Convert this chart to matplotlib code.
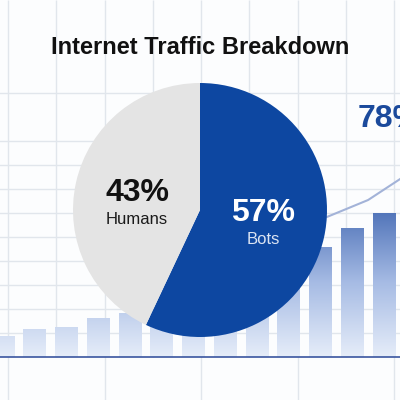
import matplotlib.pyplot as plt
import numpy as np
from matplotlib.colors import LinearSegmentedColormap

plt.rcParams['font.family'] = ['Liberation Sans', 'DejaVu Sans']

# pie data
shares = [57, 43]
share_labels = ["Bots", "Humans"]
pie_colors = ["#0d47a1", "#e4e4e4"]

# background bars (growth trend), values above baseline
bar_values = [21, 28, 30, 39, 44, 48, 53, 60, 70, 88, 110, 129, 144]
trend_x = [9.0, 10.2, 11.5, 12.7]
trend_y = [128, 140, 157, 182]
callout = "78%"

fig = plt.figure(figsize=(4, 4), dpi=100)
fig.patch.set_facecolor("#fcfdfe")

# bar chart axes fills the whole figure
ax = fig.add_axes([0, 0, 1, 1])
ax.set_facecolor("#fcfdfe")
ax.axis("off")

# grid
grid_color = "#e1e6ec"
grid_x = 0.157 + 1.52 * np.arange(9)
for k, gx in enumerate(grid_x):
    ymin = -43 if k % 2 == 0 else 0
    ax.vlines(gx, ymin, 357, color=grid_color, lw=1, zorder=0)
grid_y = [24, 48, 72, 96, 120, 144, 168, 192, 216, 264]
ax.hlines(grid_y, -1, 14, color=grid_color, lw=1, zorder=0)

# gradient bars
cmap = LinearSegmentedColormap.from_list("barfade", ["#e6edf9", "#a6bbe4", "#4c70b7"])
grad = np.linspace(0, 1, 256).reshape(-1, 1)
x = np.arange(len(bar_values))
bars = ax.bar(x, bar_values, width=0.72, color="none", zorder=2)
for b in bars:
    x0 = b.get_x()
    img = ax.imshow(grad, extent=(x0, x0 + b.get_width(), 0, 150), origin="lower",
                    cmap=cmap, aspect="auto", zorder=2)
    img.set_clip_path(b)

ax.plot(trend_x, trend_y, color="#a3b3d8", lw=1.5, zorder=3)
ax.axhline(0, color="#3a55a0", lw=1.2, zorder=4)
ax.set_xlim(-0.0945, 12.504)
ax.set_ylim(-43, 357)

# pie
pax = fig.add_axes([73 / 400, 1 - 337 / 400, 254 / 400, 254 / 400])
pax.pie(shares, colors=pie_colors, startangle=90, counterclock=False,
        wedgeprops=dict(linewidth=0))
pax.set_xlim(-1, 1)
pax.set_ylim(-1, 1)
pax.set_aspect("equal")

fig.text(0.5, 1 - 47 / 400, "Internet Traffic Breakdown", ha="center", va="center",
         fontsize=17, fontweight="bold", color="#111111")

fig.text(137 / 400, 1 - 193 / 400, f"{shares[1]}%", ha="center", va="center",
         fontsize=23, fontweight="bold", color="#111111")
fig.text(137 / 400, 1 - 219 / 400, share_labels[1], ha="center", va="center",
         fontsize=12, color="#1a1a1a")
fig.text(263 / 400, 1 - 213 / 400, f"{shares[0]}%", ha="center", va="center",
         fontsize=23, fontweight="bold", color="white")
fig.text(263 / 400, 1 - 239 / 400, share_labels[0], ha="center", va="center",
         fontsize=12, color="#dbe4f3")
fig.text(358 / 400, 1 - 119 / 400, callout, ha="left", va="center",
         fontsize=23, fontweight="bold", color="#1b4a9c")

fig.savefig("out.png", dpi=100, facecolor=fig.get_facecolor())
